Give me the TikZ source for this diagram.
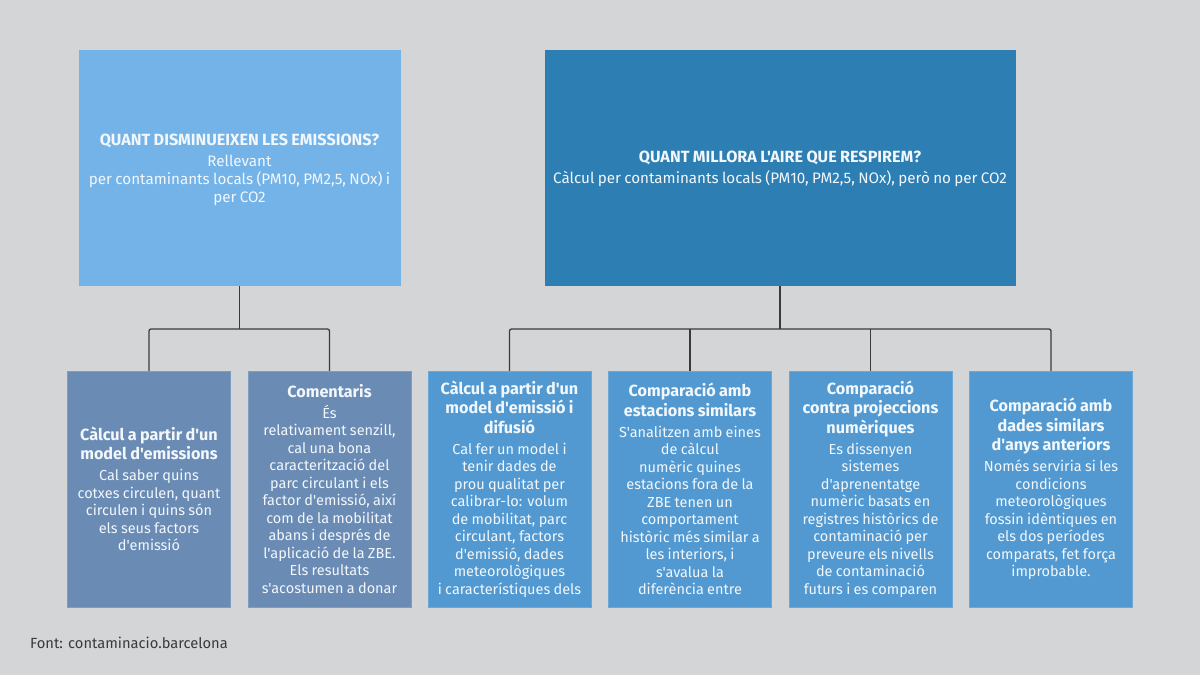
\documentclass[tikz,border=0pt]{standalone}
\usepackage{fontspec}
\setmainfont{Fira Sans}[Ligatures=TeXOff]
\definecolor{bgc}{HTML}{D4D5D7}
\definecolor{colA}{HTML}{74B3E8}
\definecolor{colB}{HTML}{2D7EB3}
\definecolor{colG}{HTML}{6A8BB4}
\definecolor{colM}{HTML}{5199D0}
\definecolor{linec}{HTML}{3A3A3A}
\definecolor{txtc}{HTML}{F2F7FC}
\newcommand{\ttlf}{\fontsize{16.2}{19.5}\selectfont\bfseries}
\newcommand{\bdyf}{\fontsize{14.5}{17.5}\selectfont}
\newcommand{\topttl}{\fontsize{16.2}{18}\selectfont\bfseries}
\newcommand{\topbdy}{\fontsize{15.2}{18}\selectfont}
\newcommand{\boxtext}[2]{{\ttlf #1\par}\vspace{3.5pt}{\bdyf #2\par}}
\begin{document}
\begin{tikzpicture}[x=1pt,y=-1pt,
  big/.style={rectangle,inner sep=0pt,minimum height=236pt},
  small/.style={rectangle,inner sep=0pt,minimum width=163pt,minimum height=236pt},
  txt/.style={inner sep=0pt,text width=200pt,align=center,text=txtc},
  conn/.style={draw=linec,line width=1.3pt,rounded corners=2pt}]
\fill[bgc] (0,0) rectangle (1200,675);
\useasboundingbox (0,0) rectangle (1200,675);
% top boxes
\node[big,fill=colA,minimum width=322pt] (A) at (239.5,168) {};
\node[big,fill=colB,minimum width=471pt] (B) at (780,168) {};
\node[txt,text width=330pt] (tA) at (239.5,170) {{\topttl QUANT DISMINUEIXEN LES EMISSIONS?\par}\vspace{3pt}{\topbdy Rellevant\\per contaminants locals (PM10, PM2,5, NOx) i\\per CO2\par}};
\node[txt,text width=480pt] (tB) at (780,168.5) {{\topttl QUANT MILLORA L'AIRE QUE RESPIREM?\par}\vspace{3pt}{\topbdy Càlcul per contaminants locals (PM10, PM2,5, NOx), però no per CO2\par}};
% small boxes
\node[small,fill=colG,draw=colG!85!white] (c1) at (149,489) {};
\node[small,fill=colG,draw=colG!85!white] (c2) at (329.5,489) {};
\node[small,fill=colM,draw=colM!85!white] (c3) at (509.5,489) {};
\node[small,fill=colM,draw=colM!85!white] (c4) at (690,489) {};
\node[small,fill=colM,draw=colM!85!white] (c5) at (870.5,489) {};
\node[small,fill=colM,draw=colM!85!white] (c6) at (1051,489) {};
\node[txt] (t1) at (c1.center) {\boxtext{Càlcul a partir d'un\\model d'emissions}{Cal saber quins\\cotxes circulen, quant\\circulen i quins són\\els seus factors\\d'emissió}};
\node[txt] (t2) at (c2.center) {\boxtext{Comentaris}{És\\relativament senzill,\\cal una bona\\caracterització del\\parc circulant i els\\factor d'emissió, així\\com de la mobilitat\\abans i després de\\l'aplicació de la ZBE.\\Els resultats\\s'acostumen a donar}};
\node[txt] (t3) at (c3.center) {\boxtext{Càlcul a partir d'un\\model d'emissió i\\difusió}{Cal fer un model i\\tenir dades de\\prou qualitat per\\calibrar-lo: volum\\de mobilitat, parc\\circulant, factors\\d'emissió, dades\\meteorològiques\\i característiques dels}};
\node[txt] (t4) at (c4.center) {\boxtext{Comparació amb\\estacions similars}{S'analitzen amb eines\\de càlcul\\numèric quines\\estacions fora de la\\ZBE tenen un\\comportament\\històric més similar a\\les interiors, i\\s'avalua la\\diferència entre}};
\node[txt] (t5) at (c5.center) {\boxtext{Comparació\\contra projeccions\\numèriques}{Es dissenyen\\sistemes\\d'aprenentatge\\numèric basats en\\registres històrics de\\contaminació per\\preveure els nivells\\de contaminació\\futurs i es comparen}};
\node[txt] (t6) at (c6.center) {\boxtext{Comparació amb\\dades similars\\d'anys anteriors}{Només serviria si les\\condicions\\meteorològiques\\fossin idèntiques en\\els dos períodes\\comparats, fet força\\improbable.}};
% connectors
\coordinate (busA) at (239.5,329);
\coordinate (busB) at (780,329);
\draw[conn] (A.south) -- (busA);
\draw[conn] (c1.north) |- (c2.north |- busA) -- (c2.north);
\draw[conn] (B.south) -- (busB);
\draw[conn] (c3.north) |- (c6.north |- busB) -- (c6.north);
\draw[conn] (c4.north) -- (c4.north |- busB);
\draw[conn] (c5.north) -- (c5.north |- busB);
% footer
\node[anchor=west,inner sep=0pt,text=linec,font=\fontsize{14.7}{16}\selectfont] (foot) at (30,643) {Font: contaminacio.barcelona};
\end{tikzpicture}
\end{document}
